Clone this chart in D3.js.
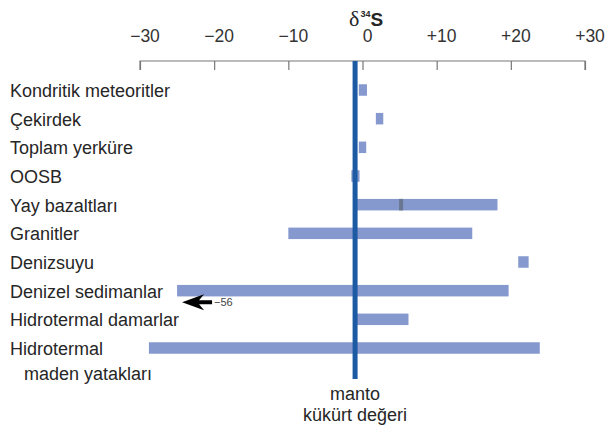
<!DOCTYPE html>
<html>
<head>
<meta charset="utf-8">
<script src="https://cdn.jsdelivr.net/npm/d3@7/dist/d3.min.js"></script>
<style>
  html, body { margin: 0; padding: 0; background: #fff; }
  svg { display: block; }
  text { font-family: "Liberation Sans", Arial, sans-serif; }
</style>
</head>
<body>
<svg id="chart" width="605" height="426"></svg>
<script>
// ---- data ----
const categories = [
  "Kondritik meteoritler",
  "Çekirdek",
  "Toplam yerküre",
  "OOSB",
  "Yay bazaltları",
  "Granitler",
  "Denizsuyu",
  "Denizel sedimanlar",
  "Hidrotermal damarlar",
  "Hidrotermal maden yatakları"
];
const labelLines = [
  ["Kondritik meteoritler"],
  ["Çekirdek"],
  ["Toplam yerküre"],
  ["OOSB"],
  ["Yay bazaltları"],
  ["Granitler"],
  ["Denizsuyu"],
  ["Denizel sedimanlar"],
  ["Hidrotermal damarlar"],
  ["Hidrotermal", "maden yatakları"]
];
const rangeMin = [-0.5, 1.8, -0.5, -1.5, -1, -10, 21, -25, -1, -28.8];
const rangeMax = [ 0.6, 2.8,  0.5, -0.4, 18.2, 14.8, 22.4, 19.7, 6.2, 23.9];
const markValue = { "Yay bazaltları": 5.2 };          // darker marker inside bar
const offscaleLabel = { "Denizel sedimanlar": "\u221256" }; // minimum beyond axis
const tickValues = [-30, -20, -10, 0, 10, 20, 30];
const tickLabels = ["\u221230", "\u221220", "\u221210", "0", "+10", "+20", "+30"];
const mantleValue = -1;

// ---- chart ----
const svg = d3.select("#chart");
const x = d3.scaleLinear().domain([-30, 30]).range([140, 585]);
const y = d3.scalePoint().domain(categories).range([90, 348]);
const barH = 11.5;
const barColor = "#8599cf";
const textColor = "#262626";

// title
const title = svg.append("text")
  .attr("x", 349).attr("y", 26)
  .attr("fill", textColor);
title.append("tspan").text("δ")
  .attr("font-family", "'Liberation Serif', 'DejaVu Serif', serif")
  .attr("font-size", 22);
title.append("tspan").text("34")
  .attr("font-weight", "bold").attr("font-size", 9).attr("dy", -9).attr("dx", 1);
title.append("tspan").text("S")
  .attr("font-weight", "bold").attr("font-size", 19).attr("dy", 9).attr("dx", 0);

// axis
const axisY = 61;
const axis = d3.axisBottom(x)
  .tickValues(tickValues)
  .tickSize(9)
  .tickFormat(() => "");
const ag = svg.append("g").attr("transform", `translate(0,${axisY})`).call(axis);
ag.select(".domain").attr("stroke", "#777").attr("stroke-width", 1.2)
  .attr("d", `M${x(-30)},9V0H${x(30)}V9`);
ag.selectAll(".tick line").attr("stroke", "#777").attr("stroke-width", 1.2);
svg.append("g").selectAll("text.tl")
  .data(tickValues)
  .join("text")
  .attr("class", "tl")
  .attr("x", d => x(d) + 5)
  .attr("y", 42)
  .attr("text-anchor", "middle")
  .attr("font-size", 17.5)
  .attr("fill", "#333")
  .text((d, i) => tickLabels[i]);

// bars
svg.append("g").selectAll("rect.bar")
  .data(categories)
  .join("rect")
  .attr("class", "bar")
  .attr("x", (d, i) => x(rangeMin[i]))
  .attr("width", (d, i) => x(rangeMax[i]) - x(rangeMin[i]))
  .attr("y", d => y(d) - barH / 2)
  .attr("height", barH)
  .attr("fill", barColor);

// markers inside bars
svg.append("g").selectAll("rect.mark")
  .data(Object.entries(markValue))
  .join("rect")
  .attr("x", d => x(d[1]) - 2)
  .attr("width", 4)
  .attr("y", d => y(d[0]) - barH / 2)
  .attr("height", barH)
  .attr("fill", "#6b7791");

// mantle line
svg.append("line")
  .attr("x1", x(mantleValue)).attr("x2", x(mantleValue))
  .attr("y1", axisY).attr("y2", 379)
  .attr("stroke", "#1c5aa3").attr("stroke-width", 5);

svg.append("text")
  .attr("x", x(mantleValue)).attr("y", 400)
  .attr("text-anchor", "middle").attr("font-size", 18).attr("fill", textColor)
  .text("manto");
svg.append("text")
  .attr("x", x(mantleValue)).attr("y", 421)
  .attr("text-anchor", "middle").attr("font-size", 18).attr("fill", textColor)
  .text("kükürt değeri");

// off-scale arrow
Object.entries(offscaleLabel).forEach(([cat, lab]) => {
  const i = categories.indexOf(cat);
  const tipX = x(rangeMin[i]) + 5;
  const ay = y(cat) + 11.5;
  const g = svg.append("g");
  g.append("path")
    .attr("d", `M${tipX},${ay} L${tipX + 22},${ay - 8} L${tipX + 17},${ay - 2} L${tipX + 30},${ay - 2} L${tipX + 30},${ay + 2} L${tipX + 17},${ay + 2} L${tipX + 22},${ay + 8} Z`)
    .attr("fill", "#000");
  g.append("text")
    .attr("x", tipX + 32).attr("y", ay + 4)
    .attr("font-size", 11).attr("fill", "#444")
    .text(lab);
});

// category labels
const lg = svg.append("g");
categories.forEach((c, i) => {
  labelLines[i].forEach((line, j) => {
    lg.append("text")
      .attr("x", j === 0 ? 10 : 24)
      .attr("y", y(c) + 7 + j * 25)
      .attr("font-size", 18)
      .attr("fill", textColor)
      .text(line);
  });
});
</script>
</body>
</html>
